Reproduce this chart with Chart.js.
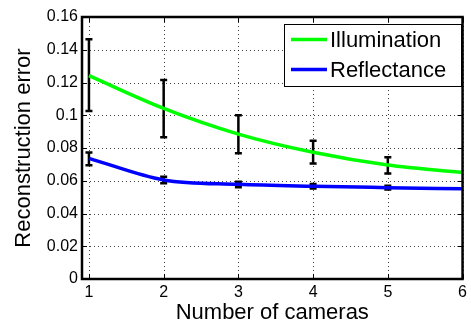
<!DOCTYPE html>
<html><head><meta charset="utf-8">
<script src="https://cdn.jsdelivr.net/npm/chart.js@4/dist/chart.umd.min.js"></script>
<style>html,body{margin:0;padding:0;background:#fff}#wrap{width:471px;height:326px;position:relative}</style>
</head><body><div id="wrap"><canvas id="c" width="471" height="326"></canvas></div>
<script>
const cameras = [1, 2, 3, 4, 5, 6];
const illumination = [0.1242, 0.1042, 0.0885, 0.0774, 0.0696, 0.0651];
const illumLow = [0.1026, 0.0865, 0.0768, 0.0706, 0.0645, null];
const illumHigh = [0.1464, 0.1215, 0.1000, 0.0845, 0.0743, null];
const reflectance = [0.0737, 0.0605, 0.0578, 0.0566, 0.0558, 0.0551];
const reflLow = [0.0695, 0.0585, 0.0560, 0.0553, 0.0547, null];
const reflHigh = [0.0772, 0.0625, 0.0594, 0.0580, 0.0570, null];
const xTicks = [1, 2, 3, 4, 5, 6];
const yTicks = [0, 0.02, 0.04, 0.06, 0.08, 0.10, 0.12, 0.14, 0.16];
const yTickLabels = ['0', '0.02', '0.04', '0.06', '0.08', '0.1', '0.12', '0.14', '0.16'];
const seriesNames = ['Illumination', 'Reflectance'];
const seriesColors = ['#00ff00', '#0000ff'];

const FONT = "'Liberation Sans', Arial, Helvetica, sans-serif";

const dottedGrid = {
  id: 'dottedGrid',
  beforeDatasetsDraw(chart) {
    const ctx = chart.ctx, a = chart.chartArea, xs = chart.scales.x, ys = chart.scales.y;
    ctx.save();
    ctx.strokeStyle = 'rgba(0,0,0,0.75)';
    ctx.lineWidth = 1;
    ctx.setLineDash([1, 3]);
    ctx.beginPath();
    xTicks.forEach(v => {
      const x = Math.round(xs.getPixelForValue(v)) + 0.5;
      ctx.moveTo(x, a.bottom); ctx.lineTo(x, a.top);
    });
    yTicks.forEach(v => {
      const y = Math.round(ys.getPixelForValue(v)) + 0.5;
      ctx.moveTo(a.left, y); ctx.lineTo(a.right, y);
    });
    ctx.stroke();
    ctx.restore();
  }
};

const errorBars = {
  id: 'errorBars',
  beforeDatasetsDraw(chart) {
    const ctx = chart.ctx, xs = chart.scales.x, ys = chart.scales.y;
    const sets = [[illumLow, illumHigh], [reflLow, reflHigh]];
    ctx.save();
    ctx.strokeStyle = '#000';
    ctx.lineWidth = 2.5;
    sets.forEach(([lo, hi]) => {
      cameras.forEach((c, i) => {
        if (lo[i] == null || hi[i] == null) return;
        const x = xs.getPixelForValue(c);
        const y1 = ys.getPixelForValue(lo[i]);
        const y2 = ys.getPixelForValue(hi[i]);
        ctx.beginPath();
        ctx.moveTo(x, y1); ctx.lineTo(x, y2);
        ctx.moveTo(x - 3.5, y1); ctx.lineTo(x + 3.5, y1);
        ctx.moveTo(x - 3.5, y2); ctx.lineTo(x + 3.5, y2);
        ctx.stroke();
      });
    });
    ctx.restore();
  }
};

const frame = {
  id: 'frame',
  afterDraw(chart) {
    const ctx = chart.ctx, a = chart.chartArea, xs = chart.scales.x, ys = chart.scales.y;
    ctx.save();
    ctx.strokeStyle = '#000';
    ctx.lineWidth = 1;
    const tl = 5;
    ctx.beginPath();
    xTicks.forEach(v => {
      const x = Math.round(xs.getPixelForValue(v)) + 0.5;
      ctx.moveTo(x, a.bottom); ctx.lineTo(x, a.bottom - tl);
      ctx.moveTo(x, a.top); ctx.lineTo(x, a.top + tl);
    });
    yTicks.forEach(v => {
      const y = Math.round(ys.getPixelForValue(v)) + 0.5;
      ctx.moveTo(a.left, y); ctx.lineTo(a.left + tl, y);
      ctx.moveTo(a.right, y); ctx.lineTo(a.right - tl, y);
    });
    ctx.stroke();
    ctx.lineWidth = 2.5;
    ctx.strokeRect(a.left, a.top, a.right - a.left, a.bottom - a.top);

    // legend box
    const bx = 284, by = 24, bw = 177, bh = 62;
    ctx.fillStyle = '#fff';
    ctx.fillRect(bx, by, bw, bh);
    ctx.lineWidth = 1;
    ctx.strokeRect(bx + 0.5, by + 0.5, bw, bh);
    ctx.font = '22px ' + FONT;
    ctx.textBaseline = 'middle';
    ctx.textAlign = 'left';
    chart.data.datasets.forEach((ds, i) => {
      const ly = by + 15.5 + i * 30;
      ctx.strokeStyle = ds.borderColor;
      ctx.lineWidth = 3.5;
      ctx.beginPath();
      ctx.moveTo(bx + 7, ly); ctx.lineTo(bx + 43, ly);
      ctx.stroke();
      ctx.fillStyle = '#000';
      ctx.fillText(ds.label, bx + 46, ly + 1.5);
    });
    ctx.restore();
  }
};

new Chart(document.getElementById('c'), {
  type: 'line',
  data: {
    datasets: [
      { label: seriesNames[0], data: cameras.map((c, i) => ({ x: c, y: illumination[i] })),
        borderColor: seriesColors[0], backgroundColor: seriesColors[0], borderWidth: 3.5,
        pointRadius: 0, cubicInterpolationMode: 'monotone', fill: false },
      { label: seriesNames[1], data: cameras.map((c, i) => ({ x: c, y: reflectance[i] })),
        borderColor: seriesColors[1], backgroundColor: seriesColors[1], borderWidth: 3.5,
        pointRadius: 0, cubicInterpolationMode: 'monotone', fill: false }
    ]
  },
  options: {
    responsive: false,
    animation: false,
    devicePixelRatio: 1,
    layout: { padding: { top: 17, right: 5, left: 0, bottom: 0 } },
    plugins: { legend: { display: false }, tooltip: { enabled: false } },
    scales: {
      x: {
        type: 'linear', min: 0.907, max: 6,
        afterBuildTicks: s => { s.ticks = xTicks.map(v => ({ value: v })); },
        afterFit: s => { s.height = 47; },
        grid: { display: false, drawTicks: false },
        border: { display: false },
        ticks: { color: '#000', padding: 4, font: { family: FONT, size: 16 },
          callback: (v) => String(v) },
        title: { display: true, text: 'Number of cameras', color: '#000',
          font: { family: FONT, size: 22 }, padding: { top: 0, bottom: 0 } }
      },
      y: {
        type: 'linear', min: 0, max: 0.16,
        afterBuildTicks: s => { s.ticks = yTicks.map(v => ({ value: v })); },
        afterFit: s => { s.width = 82; },
        grid: { display: false, drawTicks: false },
        border: { display: false },
        ticks: { color: '#000', padding: 4, font: { family: FONT, size: 16 },
          callback: (v, i) => yTickLabels[i] },
        title: { display: true, text: 'Reconstruction error', color: '#000',
          font: { family: FONT, size: 22 }, padding: { top: 11, bottom: 0 } }
      }
    }
  },
  plugins: [dottedGrid, errorBars, frame]
});
</script></body></html>
